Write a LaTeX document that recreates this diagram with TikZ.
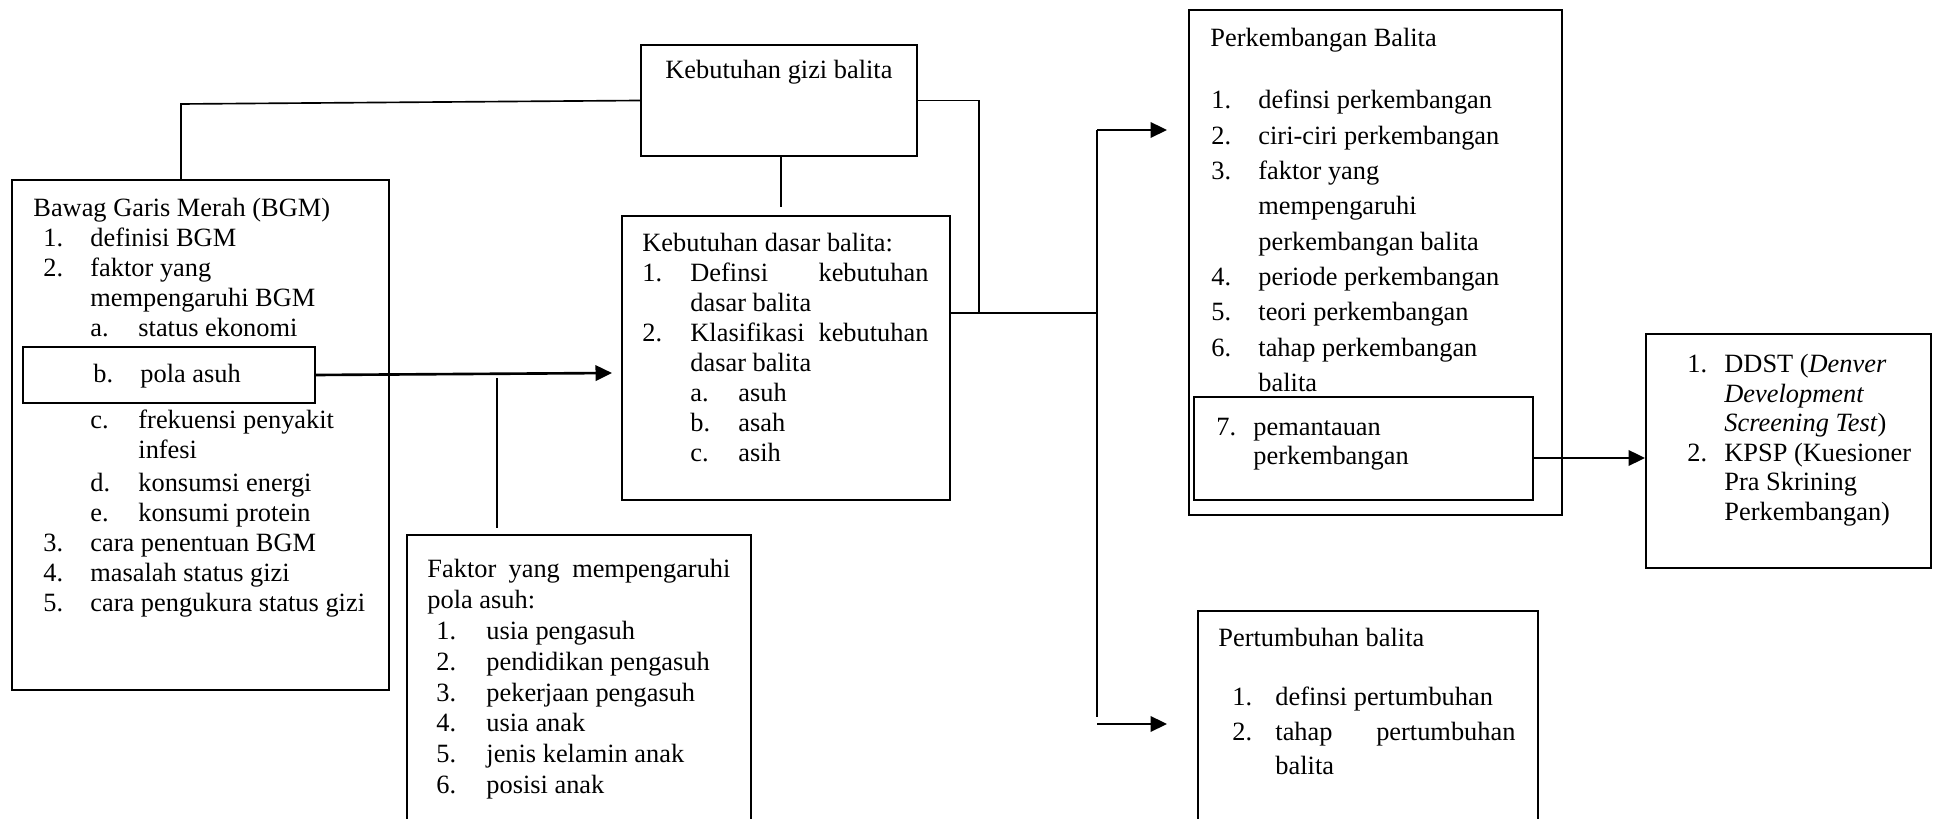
\documentclass[tikz,border=0pt]{standalone}
\usepackage{fontspec}
\setmainfont{Liberation Serif}
\usetikzlibrary{arrows.meta,fit}
\newlength{\px}\setlength{\px}{0.455pt}
\newcommand{\xl}[1]{\hbox{#1}}
\newcommand{\xn}[2]{\makebox[#1\px][l]{#2}}
\newcommand{\xv}[2]{\vtop{\baselineskip=#1\px\lineskiplimit=-100pt\lineskip=0pt #2}}
\begin{document}
\begin{tikzpicture}[x=0.455pt,y=-0.455pt,
  box/.style={draw, line width=0.9pt, inner sep=0pt},
  txt/.style={inner sep=0pt, anchor=base west, font=\fontsize{12pt}{14pt}\selectfont},
  conn/.style={line width=0.75pt},
  arr/.style={line width=1.2pt, -{Triangle[length=7.5pt,width=7pt]}}]
\useasboundingbox (0,0) rectangle (1934,819);
\clip (0,0) rectangle (1934,819);

% boxes
\node[box, fit={(12,180)(389,690)}] (bgm) {};
\node[box, fit={(23,347)(315,403)}] (pola) {};
\node[box, fit={(641,45)(917,156)}] (gizi) {};
\node[box, fit={(622,216)(950,500)}] (dasar) {};
\node[box, fit={(407,535)(751,840)}] (faktor) {};
\node[box, fit={(1189,10)(1562,515)}] (perk) {};
\node[box, fit={(1194,397)(1533,500)}] (p7) {};
\node[box, fit={(1198,611)(1538,840)}] (pert) {};
\node[box, fit={(1646,334)(1931,568)}] (ddst) {};

% connectors
\coordinate (c1) at (181,104);
\draw[conn] (gizi.west) -- (c1) -- (c1 |- bgm.north);
\coordinate (j1) at (979,313);
\draw[conn] (gizi.east) -| (j1);
\coordinate (j2) at (1097,313);
\draw[conn] (dasar.east |- j1) -- (j2);
\coordinate (v1) at (1097,130);
\coordinate (v2) at (1097,717);
\draw[conn] (v1) -- (v2);
\coordinate (t1) at (1167,130);
\draw[arr] (v1) -- (t1);
\coordinate (v3) at (1097,724);
\coordinate (t3) at (1167,724);
\draw[arr] (v3) -- (t3);
\coordinate (g1) at (781,207);
\draw[conn] (gizi.south -| g1) -- (g1);
\coordinate (t2) at (612,373);
\draw[arr] (pola.east) -- (t2);
\coordinate (f1) at (497,378);
\coordinate (f2) at (497,528);
\draw[conn] (f1) -- (f2);
\coordinate (k7) at (1533,458);
\draw[arr] (k7) -- (ddst.west |- k7);

% texts
\node[txt] (bgmtxt) at (33,217) {\xv{30}{%
\xl{Bawag Garis Merah (BGM)}
\xl{\hspace*{10\px}\xn{47}{1.}definisi BGM}
\xl{\hspace*{10\px}\xn{47}{2.}faktor yang}
\xl{\hspace*{57\px}mempengaruhi BGM}
\xl{\hspace*{57\px}\xn{48}{a.}status ekonomi}
\vskip16\px
\xl{\hspace*{60\px}\xn{47}{b.}pola asuh}
\vskip16\px
\xl{\hspace*{57\px}\xn{48}{c.}frekuensi penyakit}
\xl{\hspace*{105\px}infesi}
\vskip3\px
\xl{\hspace*{57\px}\xn{48}{d.}konsumsi energi}
\xl{\hspace*{57\px}\xn{48}{e.}konsumi protein}
\xl{\hspace*{10\px}\xn{47}{3.}cara penentuan BGM}
\xl{\hspace*{10\px}\xn{47}{4.}masalah status gizi}
\xl{\hspace*{10\px}\xn{47}{5.}cara pengukura status gizi}}};

\node[txt] (gizitxt) at (665,79) {Kebutuhan gizi balita};

\node[txt] (dasartxt) at (642,252) {\xv{30}{%
\xl{Kebutuhan dasar balita:}
\xl{\xn{48}{1.}\hbox to 238\px{Definsi\hfill kebutuhan}}
\xl{\hspace*{48\px}dasar balita}
\xl{\xn{48}{2.}\hbox to 238\px{Klasifikasi\hfill kebutuhan}}
\xl{\hspace*{48\px}dasar balita}
\xl{\hspace*{48\px}\xn{48}{a.}asuh}
\xl{\hspace*{48\px}\xn{48}{b.}asah}
\xl{\hspace*{48\px}\xn{48}{c.}asih}}};

\node[txt] (faktortxt) at (427,578) {\xv{30.8}{%
\xl{\hbox to 303\px{Faktor\hfill yang\hfill mempengaruhi}}
\xl{pola asuh:}
\xl{\hspace*{9\px}\xn{50}{1.}usia pengasuh}
\xl{\hspace*{9\px}\xn{50}{2.}pendidikan pengasuh}
\xl{\hspace*{9\px}\xn{50}{3.}pekerjaan pengasuh}
\xl{\hspace*{9\px}\xn{50}{4.}usia anak}
\xl{\hspace*{9\px}\xn{50}{5.}jenis kelamin anak}
\xl{\hspace*{9\px}\xn{50}{6.}posisi anak}}};

\node[txt] (perktxt) at (1210,47) {\xv{35.3}{%
\xl{Perkembangan Balita}
\vskip26.7\px
\xl{\hspace*{1\px}\xn{47}{1.}definsi perkembangan}
\xl{\hspace*{1\px}\xn{47}{2.}ciri-ciri perkembangan}
\xl{\hspace*{1\px}\xn{47}{3.}faktor yang}
\xl{\hspace*{48\px}mempengaruhi}
\xl{\hspace*{48\px}perkembangan balita}
\xl{\hspace*{1\px}\xn{47}{4.}periode perkembangan}
\xl{\hspace*{1\px}\xn{47}{5.}teori perkembangan}
\xl{\hspace*{1\px}\xn{47}{6.}tahap perkembangan}
\xl{\hspace*{48\px}balita}}};

\node[txt] (p7txt) at (1216,436) {\xv{29}{%
\xl{\xn{37}{7.}pemantauan}
\xl{\hspace*{37\px}perkembangan}}};

\node[txt] (pertitle) at (1218,647) {Pertumbuhan balita};
\node[txt] (perttxt) at (1232,706) {\xv{34.5}{%
\xl{\xn{43}{1.}definsi pertumbuhan}
\xl{\xn{43}{2.}\hbox to 240\px{tahap\hfill pertumbuhan}}
\xl{\hspace*{43\px}balita}}};

\node[txt] (ddsttxt) at (1687,373) {\xv{29.5}{%
\xl{\xn{37}{1.}DDST (\textit{Denver}}
\xl{\hspace*{37\px}\textit{Development}}
\xl{\hspace*{37\px}\textit{Screening Test})}
\xl{\xn{37}{2.}KPSP (Kuesioner}
\xl{\hspace*{37\px}Pra Skrining}
\xl{\hspace*{37\px}Perkembangan)}}};
\end{tikzpicture}
\end{document}
